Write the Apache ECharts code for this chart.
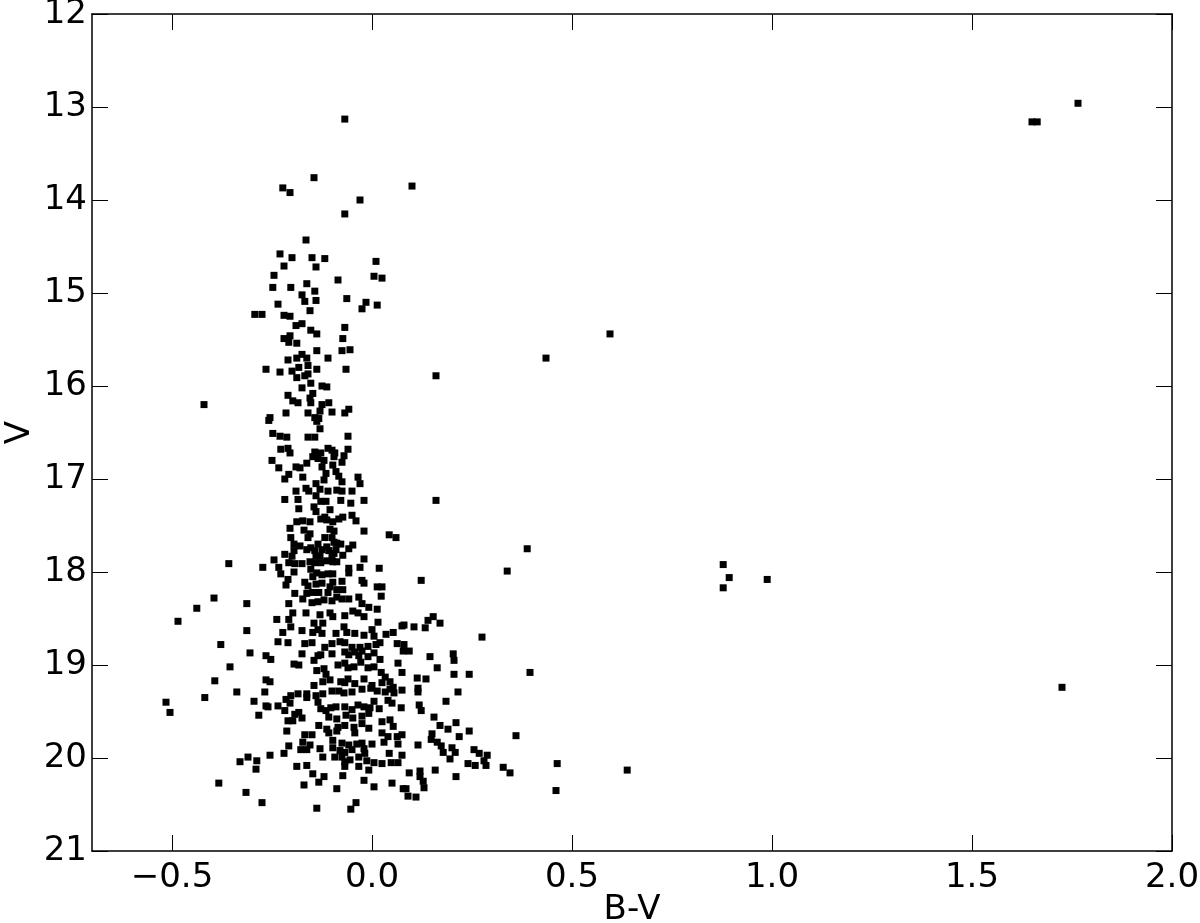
<!DOCTYPE html>
<html>
<head>
<meta charset="utf-8">
<script src="https://cdn.jsdelivr.net/npm/echarts@6/dist/echarts.min.js"></script>
<style>
  html, body { margin: 0; padding: 0; background: #fff; }
  #chart { width: 1200px; height: 923px; }
</style>
</head>
<body>
<div id="chart"></div>
<script>
// colour-magnitude diagram, [B-V, V]
const upperStars = [
  [-0.068, 13.13], [-0.145, 13.76], [-0.223, 13.87], [-0.205, 13.92], [0.10, 13.85], [-0.03, 14.0],
  [-0.068, 14.15], [-0.165, 14.43], [-0.23, 14.58], [-0.20, 14.62], [-0.15, 14.62], [-0.118, 14.63],
  [-0.22, 14.71], [-0.14, 14.72], [0.01, 14.66], [-0.245, 14.81], [0.005, 14.82], [0.025, 14.84],
  [-0.085, 14.86], [-0.248, 14.94], [-0.203, 14.94], [-0.163, 14.90], [-0.143, 14.98], [-0.175, 15.02],
  [-0.168, 15.09], [-0.14, 15.08], [-0.063, 15.06], [-0.015, 15.10], [-0.025, 15.17], [0.013, 15.13],
  [-0.235, 15.12], [-0.293, 15.23], [-0.275, 15.23], [-0.22, 15.24], [-0.205, 15.25], [-0.155, 15.19],
  [-0.19, 15.35], [-0.175, 15.33], [-0.153, 15.40], [-0.138, 15.44], [-0.068, 15.37], [-0.073, 15.49],
  [-0.22, 15.49], [-0.208, 15.53], [-0.188, 15.54], [-0.205, 15.46], [-0.138, 15.62], [-0.075, 15.62],
  [-0.055, 15.61], [-0.11, 15.70], [-0.21, 15.72], [-0.188, 15.70], [-0.175, 15.66], [-0.163, 15.70],
  [-0.265, 15.82], [-0.23, 15.85], [-0.20, 15.84], [-0.183, 15.80], [-0.16, 15.78], [-0.138, 15.82],
  [-0.065, 15.82], [-0.188, 15.91], [-0.168, 15.89], [-0.16, 15.87], [-0.153, 15.97], [-0.125, 16.00],
  [-0.113, 16.01], [-0.175, 16.02], [-0.21, 16.10], [-0.148, 16.08], [-0.155, 16.13], [-0.198, 16.16],
  [-0.185, 16.18], [-0.153, 16.18], [-0.125, 16.20], [-0.108, 16.18], [-0.215, 16.29], [-0.16, 16.29],
  [-0.13, 16.27], [-0.10, 16.28], [-0.068, 16.29], [-0.058, 16.25], [-0.255, 16.34], [-0.143, 16.34],
  [-0.133, 16.35], [-0.42, 16.20], [0.16, 15.89], [0.595, 15.44], [0.435, 15.70]
];

const middleStars = [
  [-0.258, 16.37], [-0.138, 16.38], [-0.13, 16.46], [-0.248, 16.51], [-0.23, 16.54], [-0.213, 16.55],
  [-0.16, 16.55], [-0.143, 16.55], [-0.06, 16.54], [-0.228, 16.68], [-0.21, 16.67], [-0.205, 16.72],
  [-0.143, 16.71], [-0.128, 16.72], [-0.11, 16.67], [-0.10, 16.69], [-0.093, 16.72], [-0.07, 16.75],
  [-0.06, 16.68], [-0.25, 16.80], [-0.148, 16.76], [-0.135, 16.78], [-0.12, 16.80], [-0.095, 16.76],
  [-0.075, 16.82], [-0.233, 16.88], [-0.19, 16.87], [-0.18, 16.88], [-0.163, 16.83], [-0.125, 16.87],
  [-0.098, 16.85], [-0.208, 16.95], [-0.218, 17.00], [-0.173, 16.98], [-0.115, 16.94], [-0.12, 17.01],
  [-0.09, 16.92], [-0.083, 16.97], [-0.075, 17.03], [-0.035, 16.98], [-0.03, 17.05], [-0.14, 17.05],
  [-0.13, 17.11], [-0.165, 17.10], [-0.158, 17.13], [-0.19, 17.13], [-0.11, 17.13], [-0.088, 17.12],
  [-0.075, 17.13], [-0.05, 17.13], [-0.218, 17.22], [-0.185, 17.22], [-0.14, 17.18], [-0.128, 17.24],
  [-0.115, 17.24], [-0.078, 17.23], [-0.053, 17.26], [-0.02, 17.23], [-0.183, 17.32], [-0.145, 17.30],
  [-0.14, 17.35], [-0.105, 17.33], [-0.128, 17.43], [-0.118, 17.41], [-0.113, 17.44], [-0.098, 17.46],
  [-0.083, 17.43], [-0.073, 17.41], [-0.05, 17.39], [-0.04, 17.45], [-0.188, 17.46], [-0.173, 17.45],
  [-0.155, 17.46], [-0.205, 17.53], [-0.17, 17.55], [-0.105, 17.54], [-0.095, 17.56], [-0.02, 17.56],
  [0.043, 17.60], [0.06, 17.63], [-0.203, 17.63], [-0.155, 17.59], [-0.16, 17.63], [-0.118, 17.63],
  [-0.10, 17.63], [-0.095, 17.68], [-0.195, 17.70], [-0.18, 17.72], [-0.135, 17.70], [-0.113, 17.73],
  [-0.088, 17.69], [-0.078, 17.70], [-0.048, 17.71], [-0.058, 17.75], [-0.195, 17.77], [-0.163, 17.76],
  [-0.153, 17.74], [-0.143, 17.77], [-0.125, 17.76], [-0.108, 17.77], [-0.095, 17.80], [-0.09, 17.76],
  [-0.218, 17.81], [-0.20, 17.83], [-0.14, 17.83], [-0.13, 17.83], [-0.10, 17.83], [-0.073, 17.82],
  [-0.245, 17.87], [-0.233, 17.95], [-0.208, 17.90], [-0.193, 17.91], [-0.175, 17.91], [-0.155, 17.89],
  [-0.143, 17.90], [-0.128, 17.90], [-0.113, 17.88], [-0.098, 17.89], [-0.088, 17.89], [-0.058, 17.96],
  [-0.058, 18.01], [-0.02, 17.86], [-0.03, 17.95], [0.018, 17.96], [-0.273, 17.95], [-0.228, 18.02],
  [-0.195, 18.00], [-0.153, 17.97], [-0.138, 18.01], [-0.148, 18.05], [-0.125, 18.03], [-0.11, 18.02],
  [-0.098, 18.02], [-0.075, 18.10], [-0.098, 18.11], [-0.105, 18.16], [-0.025, 18.09], [-0.02, 18.12],
  [-0.21, 18.08], [-0.215, 18.14], [-0.168, 18.11], [-0.16, 18.15], [-0.14, 18.13], [-0.125, 18.12],
  [0.013, 18.16], [0.025, 18.16], [-0.193, 18.23], [-0.163, 18.23], [-0.148, 18.22], [-0.133, 18.22],
  [-0.11, 18.22], [-0.088, 18.19], [-0.073, 18.19], [0.023, 18.26], [-0.313, 18.34], [-0.208, 18.34],
  [-0.173, 18.29], [-0.15, 18.33], [-0.135, 18.32], [-0.12, 18.30], [-0.10, 18.31], [-0.088, 18.27],
  [-0.075, 18.29], [-0.058, 18.29], [-0.033, 18.27], [-0.025, 18.34], [-0.008, 18.38], [0.013, 18.40],
  [-0.238, 18.51], [-0.208, 18.51], [-0.198, 18.44], [-0.165, 18.44], [-0.13, 18.46], [-0.105, 18.44],
  [-0.098, 18.48], [-0.068, 18.47], [-0.048, 18.42], [-0.035, 18.44], [-0.02, 18.48], [-0.145, 18.55],
  [-0.123, 18.55], [-0.358, 17.91], [0.16, 17.23], [0.388, 17.75], [0.338, 17.99], [0.123, 18.09],
  [-0.395, 18.28], [-0.438, 18.39], [-0.485, 18.53]
];

const lowerStars = [
  [-0.313, 18.63], [-0.223, 18.65], [-0.203, 18.59], [-0.175, 18.63], [-0.148, 18.65], [-0.135, 18.62],
  [-0.125, 18.66], [-0.09, 18.66], [-0.07, 18.59], [-0.063, 18.65], [-0.043, 18.66], [-0.02, 18.68],
  [0.0, 18.62], [0.015, 18.54], [0.005, 18.69], [0.035, 18.67], [0.053, 18.65], [0.075, 18.58],
  [-0.235, 18.75], [-0.21, 18.76], [-0.168, 18.77], [-0.15, 18.76], [-0.118, 18.81], [-0.10, 18.77],
  [-0.08, 18.75], [-0.068, 18.76], [-0.05, 18.81], [-0.03, 18.81], [-0.01, 18.80], [0.01, 18.78],
  [0.02, 18.76], [0.063, 18.77], [0.08, 18.78], [-0.305, 18.87], [-0.265, 18.90], [-0.253, 18.94],
  [-0.175, 18.88], [-0.145, 18.95], [-0.135, 18.90], [-0.128, 18.89], [-0.10, 18.88], [-0.068, 18.86],
  [-0.058, 18.89], [-0.043, 18.86], [-0.033, 18.90], [-0.025, 18.85], [-0.01, 18.91], [0.005, 18.87],
  [0.02, 18.94], [-0.195, 18.99], [-0.183, 19.00], [-0.138, 19.06], [-0.12, 19.04], [-0.115, 19.10],
  [-0.085, 19.00], [-0.068, 18.98], [-0.06, 19.03], [-0.045, 19.02], [-0.028, 18.97], [-0.01, 19.03],
  [0.005, 19.02], [0.023, 19.08], [0.033, 19.13], [0.065, 18.98], [0.075, 19.08], [-0.265, 19.16],
  [-0.255, 19.18], [-0.145, 19.22], [-0.123, 19.18], [-0.105, 19.16], [-0.078, 19.18], [-0.068, 19.19],
  [-0.06, 19.15], [-0.043, 19.20], [-0.02, 19.15], [0.0, 19.22], [0.025, 19.19], [0.045, 19.18],
  [0.053, 19.24], [0.075, 19.27], [-0.268, 19.29], [-0.215, 19.37], [-0.203, 19.33], [-0.185, 19.31],
  [-0.163, 19.31], [-0.163, 19.35], [-0.14, 19.33], [-0.123, 19.31], [-0.10, 19.28], [-0.083, 19.28],
  [-0.07, 19.30], [-0.05, 19.29], [-0.025, 19.26], [-0.003, 19.25], [0.013, 19.28], [0.033, 19.29],
  [0.045, 19.26], [0.055, 19.30], [-0.295, 19.39], [-0.265, 19.44], [-0.26, 19.45], [-0.235, 19.44],
  [-0.218, 19.49], [-0.205, 19.41], [-0.193, 19.53], [-0.183, 19.51], [-0.175, 19.57], [-0.135, 19.40],
  [-0.128, 19.47], [-0.115, 19.49], [-0.103, 19.46], [-0.09, 19.45], [-0.068, 19.45], [-0.05, 19.48],
  [-0.035, 19.43], [-0.02, 19.45], [-0.005, 19.46], [0.005, 19.39], [0.018, 19.47], [0.04, 19.38],
  [0.05, 19.41], [0.073, 19.46], [-0.283, 19.54], [-0.108, 19.56], [-0.088, 19.58], [-0.065, 19.54],
  [-0.048, 19.57], [-0.025, 19.55], [-0.008, 19.52], [-0.21, 19.60], [-0.198, 19.60], [-0.133, 19.65],
  [-0.113, 19.69], [-0.085, 19.67], [-0.068, 19.65], [-0.045, 19.67], [-0.025, 19.63], [-0.008, 19.68],
  [0.025, 19.61], [0.045, 19.59], [0.053, 19.66], [-0.213, 19.71], [-0.168, 19.75], [-0.15, 19.75],
  [-0.108, 19.73], [-0.088, 19.71], [-0.043, 19.73], [0.025, 19.73], [0.04, 19.77], [0.063, 19.77],
  [0.075, 19.75], [-0.098, 19.81], [-0.075, 19.84], [-0.058, 19.86], [-0.038, 19.85], [-0.025, 19.84],
  [0.0, 19.85], [0.03, 19.83], [0.065, 19.85], [-0.173, 19.83], [-0.155, 19.86], [-0.208, 19.87],
  [-0.178, 19.91], [-0.163, 19.91], [-0.13, 19.90], [-0.098, 19.89], [-0.08, 19.92], [-0.068, 19.94],
  [-0.05, 19.91], [-0.02, 19.90], [-0.255, 19.97], [-0.22, 19.95], [-0.31, 19.99], [-0.288, 20.03],
  [-0.29, 20.12], [-0.093, 19.99], [-0.075, 19.99], [-0.068, 20.04], [-0.055, 20.02], [-0.033, 19.99],
  [-0.018, 19.95], [-0.013, 20.03], [0.005, 20.05], [0.025, 20.06], [0.043, 19.95], [0.048, 20.05],
  [0.065, 20.05], [0.075, 19.97], [-0.123, 19.99], [-0.188, 20.09], [-0.163, 20.08], [-0.068, 20.09],
  [-0.033, 20.09], [-0.008, 20.13], [-0.148, 20.17], [-0.12, 20.20], [-0.073, 20.19], [-0.133, 20.26],
  [-0.17, 20.29], [-0.02, 20.24], [0.005, 20.31], [0.05, 20.27], [0.078, 20.33], [-0.088, 20.33],
  [-0.315, 20.37], [-0.275, 20.48], [-0.138, 20.54], [-0.053, 20.55], [-0.04, 20.48],
  [-0.378, 18.78], [-0.355, 19.02], [-0.393, 19.17], [-0.338, 19.29], [-0.418, 19.35], [-0.515, 19.40],
  [-0.505, 19.51], [-0.33, 20.04], [-0.383, 20.27]
];

const redStars = [
  [0.275, 18.70], [0.36, 19.76], [0.395, 19.08], [0.08, 18.57], [0.105, 18.59], [0.14, 18.52],
  [0.153, 18.48], [0.17, 18.55], [0.133, 18.60], [0.093, 18.85], [0.078, 18.85], [0.145, 18.91],
  [0.203, 18.88], [0.205, 18.95], [0.163, 19.03], [0.205, 19.10], [0.243, 19.10], [0.135, 19.15],
  [0.113, 19.14], [0.115, 19.25], [0.115, 19.29], [0.215, 19.29], [0.185, 19.39], [0.118, 19.43],
  [0.123, 19.49], [0.155, 19.56], [0.17, 19.65], [0.19, 19.69], [0.21, 19.62], [0.218, 19.77],
  [0.243, 19.71], [0.15, 19.74], [0.148, 19.80], [0.163, 19.83], [0.173, 19.87], [0.178, 19.94],
  [0.115, 19.86], [0.20, 19.89], [0.208, 19.94], [0.195, 20.01], [0.255, 19.91], [0.268, 19.95],
  [0.288, 19.97], [0.28, 20.03], [0.285, 20.08], [0.24, 20.06], [0.258, 20.08], [0.328, 20.10],
  [0.345, 20.16], [0.158, 20.13], [0.21, 20.20], [0.12, 20.14], [0.12, 20.20], [0.128, 20.25],
  [0.13, 20.32], [0.093, 20.16], [0.085, 20.33], [0.09, 20.41], [0.11, 20.42],
  [0.463, 20.06], [0.46, 20.35], [0.638, 20.13],
  [1.765, 12.96], [1.65, 13.16], [1.663, 13.16], [0.878, 17.92], [0.878, 18.17], [0.893, 18.06],
  [0.988, 18.08], [1.725, 19.24]
];

const xTicks = [-0.5, 0, 0.5, 1, 1.5, 2]

const font = 'DejaVu Sans'
const ink = '#000'

function fmtX(v) {
  const s = Math.abs(v).toFixed(1)
  return v < 0 ? '\u2212' + s : s
}

const chart = echarts.init(document.getElementById('chart'))

const tickStyle = { show: true, inside: true, length: 16, lineStyle: { color: ink, width: 1 } }
const lineStyle = { show: true, onZero: false, lineStyle: { color: ink, width: 1.5 } }

chart.setOption({
  animation: false,
  backgroundColor: '#fff',
  grid: { left: 92, right: 28, top: 14, bottom: 72, containLabel: false, outerBoundsMode: 'none' },
  xAxis: [{
    type: 'value',
    min: -0.7,
    max: 2.0,
    position: 'bottom',
    name: 'B-V',
    nameLocation: 'middle',
    nameGap: 42,
    nameMoveOverlap: false,
    nameTextStyle: { fontFamily: font, fontSize: 34, color: ink },
    axisLine: lineStyle,
    axisTick: Object.assign({ customValues: xTicks }, tickStyle),
    axisLabel: {
      customValues: xTicks,
      formatter: fmtX,
      margin: 10,
      fontFamily: font,
      fontSize: 34,
      color: ink
    },
    splitLine: { show: false }
  }, {
    type: 'value',
    min: -0.7,
    max: 2.0,
    position: 'top',
    axisLine: lineStyle,
    axisTick: Object.assign({ customValues: xTicks }, tickStyle),
    axisLabel: { show: false },
    splitLine: { show: false }
  }],
  yAxis: [{
    type: 'value',
    min: 12,
    max: 21,
    interval: 1,
    inverse: true,
    position: 'left',
    name: 'V',
    nameLocation: 'middle',
    nameRotate: 90,
    nameGap: 55,
    nameMoveOverlap: false,
    nameTextStyle: { fontFamily: font, fontSize: 34, color: ink },
    axisLine: lineStyle,
    axisTick: tickStyle,
    axisLabel: { margin: 5, fontFamily: font, fontSize: 34, color: ink },
    splitLine: { show: false }
  }, {
    type: 'value',
    min: 12,
    max: 21,
    interval: 1,
    inverse: true,
    position: 'right',
    axisLine: lineStyle,
    axisTick: tickStyle,
    axisLabel: { show: false },
    splitLine: { show: false }
  }],
  series: [upperStars, middleStars, lowerStars, redStars].map(d => ({
    type: 'scatter',
    data: d,
    symbol: 'rect',
    symbolSize: 7,
    itemStyle: { color: ink, opacity: 1 },
    silent: true
  }))
})
</script>
</body>
</html>
